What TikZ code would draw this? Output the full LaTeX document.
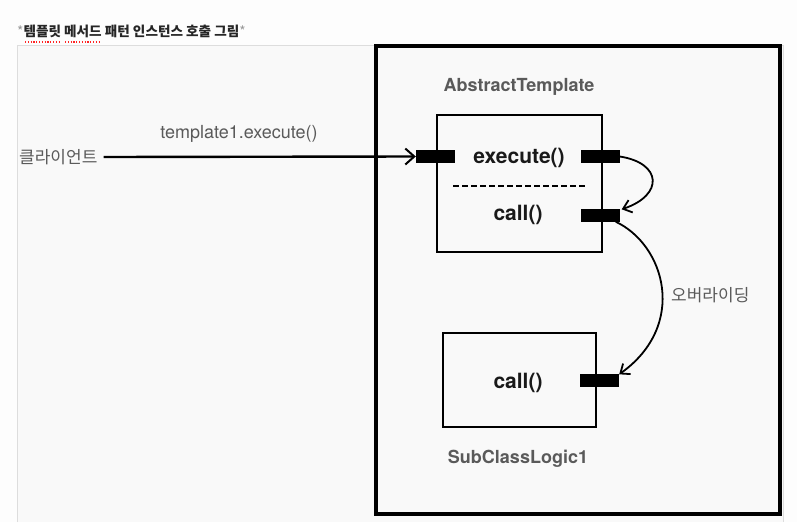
\documentclass[tikz,border=0pt]{standalone}
\usepackage{fontspec}
\setmainfont{TeX Gyre Heros}
\newfontfamily\kr{Noto Sans CJK KR}
\usetikzlibrary{arrows.meta}
\definecolor{txtgray}{HTML}{5A5A5A}
\definecolor{framegray}{HTML}{DDDDDD}
\definecolor{bgin}{HTML}{F9F9F9}
\definecolor{bgout}{HTML}{FDFDFD}
\tikzset{
  port/.style={fill=black, draw=none, minimum width=39pt, minimum height=13pt, inner sep=0pt},
  method/.style={font=\fontsize{21}{23}\selectfont\bfseries, text=black!90, inner sep=0pt},
  caption/.style={font=\fontsize{18}{20}\selectfont\bfseries, text=txtgray, inner sep=0pt},
  plain/.style={font=\fontsize{18}{20}\selectfont, text=txtgray, inner sep=0pt},
  krlabel/.style={font=\kr\fontsize{17}{19}\selectfont, text=txtgray, inner sep=0pt},
  classbox/.style={draw=black, line width=2.8pt, fill=bgin},
  callarrow/.style={draw=black, line width=1.8pt, -{Straight Barb[length=8pt,width=13pt,line width=1.8pt]}},
}
\begin{document}
\begin{tikzpicture}[x=1pt,y=-1pt]
\useasboundingbox[fill=bgout] (0,0) rectangle (797,522);
% page frame
\fill[bgin] (17,45) rectangle (783,522);
\draw[framegray, line width=1pt] (17,522) -- (17,45) -- (783,45) -- (783,522);
% title
\node[anchor=west, inner sep=0pt] (title) at (17,31)
  {\kr\fontsize{13.6}{15}\selectfont\textcolor{black!40}{*}\textcolor{black!85}{\bfseries 템플릿 메서드 패턴 인스턴스 호출 그림}\textcolor{black!40}{*}};
\draw[red!85, line width=1.4pt, dash pattern=on 1.2pt off 1.6pt] (25,42) -- (61,42);
\draw[red!85, line width=1.4pt, dash pattern=on 1.2pt off 1.6pt] (65,42) -- (101,42);
% outer box
\draw[black, line width=3.2pt] (376,46) rectangle (780,514);
% AbstractTemplate
\node[caption] (absname) at (519,87) {AbstractTemplate};
\draw[classbox] (437,115) rectangle (602,252);
\node[method] (exec) at (519,158) {execute()};
\node[method] (call1) at (518,215) {call()};
\draw[black, line width=1.6pt, dash pattern=on 6pt off 3pt] (453,186) -- (585,186);
\node[port] (pl) at (435.5,156.5) {};
\node[port] (pe) at (600,156.5) {};
\node[port] (pc) at (600,215) {};
% SubClassLogic1
\draw[classbox] (443,333) rectangle (596,427);
\node[method] (call2) at (518,383) {call()};
\node[port] (ps) at (599.5,380) {};
\node[caption] (subname) at (518,459) {SubClassLogic1};
% client
\node[krlabel, anchor=west] (client) at (19,157) {클라이언트};
\node[plain] (lbl) at (239,134) {template1.execute()};
\draw[black, line width=2.4pt, -{Straight Barb[length=9pt,width=16pt,line width=2pt]}] ([xshift=6pt]client.east) -- (pl.west);
% self call
\draw[callarrow] (pe.east) .. controls (662,163) and (664,195) .. ([xshift=2pt,yshift=-1pt]pc.north east);
% overriding
\draw[callarrow] ([xshift=-4pt]pc.south east) .. controls (665,245) and (688,325) .. ([yshift=-1pt]ps.north east);
\node[krlabel, anchor=west] (ovr) at (671,295) {오버라이딩};
\end{tikzpicture}
\end{document}
